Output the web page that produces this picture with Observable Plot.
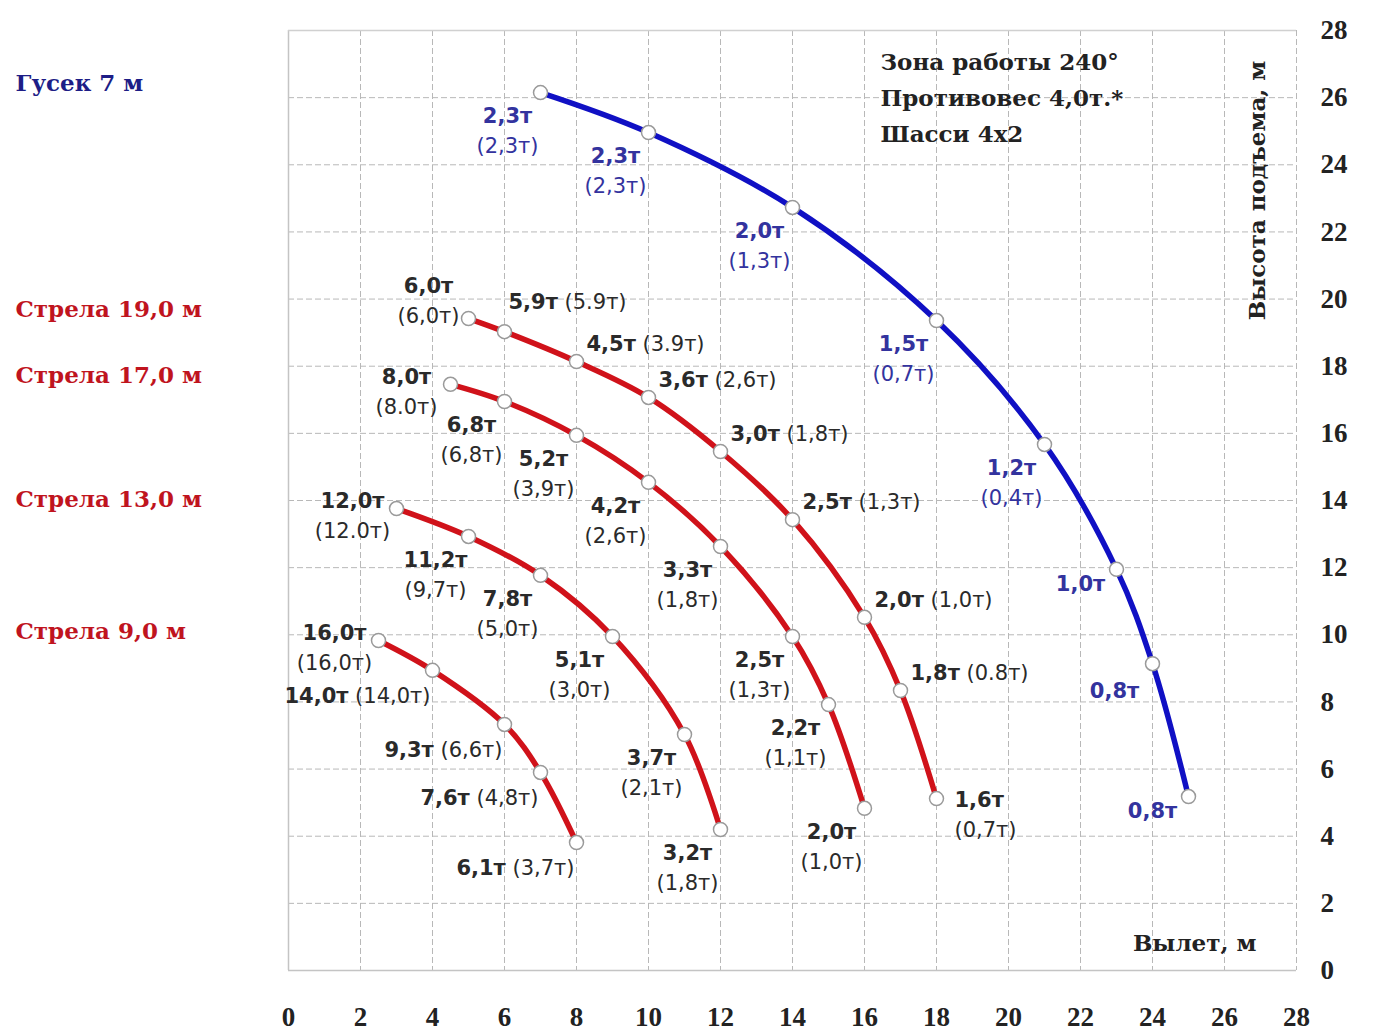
<!DOCTYPE html>
<html>
<head>
<meta charset="utf-8">
<script src="https://cdn.jsdelivr.net/npm/d3@7"></script>
<script src="https://cdn.jsdelivr.net/npm/@observablehq/plot@0.6"></script>
<style>
  html, body { margin: 0; padding: 0; background: #fff; }
</style>
</head>
<body>
<div id="chart"></div>
<script>
// ---------- data ----------
const xTicks = [0, 2, 4, 6, 8, 10, 12, 14, 16, 18, 20, 22, 24, 26, 28];
const yTicks = [0, 2, 4, 6, 8, 10, 12, 14, 16, 18, 20, 22, 24, 26, 28];

const seriesNames = ["Гусек 7 м", "Стрела 19,0 м", "Стрела 17,0 м", "Стрела 13,0 м", "Стрела 9,0 м"];

const jibX = [7, 10, 14, 18, 21, 23, 24, 25];
const jibY = [26.15, 24.96, 22.73, 19.36, 15.67, 11.95, 9.14, 5.18];
const jibLoad = ["2,3т", "2,3т", "2,0т", "1,5т", "1,2т", "1,0т", "0,8т", "0,8т"];
const jibLoadAlt = ["(2,3т)", "(2,3т)", "(1,3т)", "(0,7т)", "(0,4т)", "", "", ""];
const jibPlace = ["bl", "bl", "bl", "bl", "bl", "l1", "bl1", "l1"];

const boom19X = [5, 6, 8, 10, 12, 14, 16, 17, 18];
const boom19Y = [19.42, 19.03, 18.14, 17.07, 15.46, 13.43, 10.52, 8.34, 5.12];
const boom19Load = ["6,0т", "5,9т", "4,5т", "3,6т", "3,0т", "2,5т", "2,0т", "1,8т", "1,6т"];
const boom19LoadAlt = ["(6,0т)", "(5.9т)", "(3.9т)", "(2,6т)", "(1,8т)", "(1,3т)", "(1,0т)", "(0.8т)", "(0,7т)"];
const boom19Place = ["al2", "ar0", "ar", "ar", "ar", "ar", "ar", "ar", "r2"];

const boom17X = [4.5, 6, 8, 10, 12, 14, 15, 16];
const boom17Y = [17.46, 16.95, 15.94, 14.54, 12.63, 9.95, 7.92, 4.83];
const boom17Load = ["8,0т", "6,8т", "5,2т", "4,2т", "3,3т", "2,5т", "2,2т", "2,0т"];
const boom17LoadAlt = ["(8.0т)", "(6,8т)", "(3,9т)", "(2,6т)", "(1,8т)", "(1,3т)", "(1,1т)", "(1,0т)"];
const boom17Place = ["l2", "bl", "bl", "bl", "bl", "bl", "bl", "bl"];

const boom13X = [3, 5, 7, 9, 11, 12];
const boom13Y = [13.76, 12.93, 11.77, 9.95, 7.03, 4.2];
const boom13Load = ["12,0т", "11,2т", "7,8т", "5,1т", "3,7т", "3,2т"];
const boom13LoadAlt = ["(12.0т)", "(9,7т)", "(5,0т)", "(3,0т)", "(2,1т)", "(1,8т)"];
const boom13Place = ["l2", "bl", "bl", "bl", "bl", "bl"];

const boom9X = [2.5, 4, 6, 7, 8];
const boom9Y = [9.83, 8.94, 7.33, 5.9, 3.81];
const boom9Load = ["16,0т", "14,0т", "9,3т", "7,6т", "6,1т"];
const boom9LoadAlt = ["(16,0т)", "(14,0т)", "(6,6т)", "(4,8т)", "(3,7т)"];
const boom9Place = ["l2", "bl1e", "bl1e", "bl1e", "bl1e"];

const annotationLines = ["Зона работы 240°", "Противовес 4,0т.*", "Шасси 4x2"];
const xAxisTitle = "Вылет, м";
const yAxisTitle = "Высота подъема, м";

// ---------- styles ----------
const lineColors = ["#1010c4", "#d0121a", "#d0121a", "#d0121a", "#d0121a"];
const legendColors = ["#1d1d86", "#c0141e", "#c0141e", "#c0141e", "#c0141e"];
const labelColors = ["#33339e", "#2a2a2a", "#2a2a2a", "#2a2a2a", "#2a2a2a"];
const serifBold = {fontFamily: "DejaVu Serif", fontWeight: "bold", fontSize: 23, fill: "#222"};

const placements = {
  bl:   {dx: -33, dy: 36,  textAnchor: "middle", two: true},
  bl1:  {dx: -38, dy: 25,  textAnchor: "middle", two: false},
  l1:   {dx: -36, dy: 12,  textAnchor: "middle", two: false},
  al2:  {dx: -40, dy: -20, textAnchor: "middle", two: true},
  l2:   {dx: -44, dy: 5,   textAnchor: "middle", two: true},
  ar:   {dx: 10,  dy: -20, textAnchor: "start",  two: false},
  ar0:  {dx: 4,   dy: -32, textAnchor: "start",  two: false},
  r2:   {dx: 18,  dy: 14,  textAnchor: "start",  two: true},
  bl1e: {dx: -2,  dy: 23,  textAnchor: "end",    two: false}
};

// ---------- table ----------
const raw = [
  [jibX, jibY, jibLoad, jibLoadAlt, jibPlace],
  [boom19X, boom19Y, boom19Load, boom19LoadAlt, boom19Place],
  [boom17X, boom17Y, boom17Load, boom17LoadAlt, boom17Place],
  [boom13X, boom13Y, boom13Load, boom13LoadAlt, boom13Place],
  [boom9X, boom9Y, boom9Load, boom9LoadAlt, boom9Place]
];

const marks = [
  Plot.gridX(xTicks, {stroke: "#b8b8b8", strokeOpacity: 1, strokeDasharray: "6,3"}),
  Plot.gridY(yTicks, {stroke: "#b8b8b8", strokeOpacity: 1, strokeDasharray: "6,3"}),
  Plot.ruleY([0], {stroke: "#c4c4c4", strokeWidth: 1.5}),
  Plot.ruleX([0], {stroke: "#c4c4c4", strokeWidth: 1.5}),
  Plot.ruleY([28], {stroke: "#d0d0d0", strokeWidth: 1.5}),
  Plot.axisX(xTicks, {anchor: "bottom", tickSize: 0, tickPadding: 36, label: null,
    fontFamily: "Liberation Serif", fontWeight: "bold", fontSize: 27, fill: "#222"}),
  Plot.axisY(yTicks, {anchor: "right", tickSize: 0, tickPadding: 24, label: null,
    fontFamily: "Liberation Serif", fontWeight: "bold", fontSize: 27, fill: "#222"})
];

raw.forEach(([xs, ys, loads, alts, places], i) => {
  const rows = xs.map((x, j) => ({
    series: seriesNames[i], x, y: ys[j], load: loads[j], alt: alts[j], place: places[j]
  }));
  marks.push(Plot.line(rows, {x: "x", y: "y", stroke: lineColors[i], strokeWidth: 5.5,
    curve: "catmull-rom", strokeLinecap: "round"}));
  marks.push(Plot.dot(rows, {x: "x", y: "y", r: 7, fill: "white", stroke: "#9a9a9a", strokeWidth: 1.5}));
  for (const [code, p] of Object.entries(placements)) {
    const sub = rows.filter(r => r.place === code);
    if (!sub.length) continue;
    marks.push(Plot.text(sub, {
      x: "x", y: "y",
      text: r => p.two && r.alt ? r.load + "\n" + r.alt : (r.alt ? r.load + " " + r.alt : r.load),
      dx: p.dx, dy: p.dy, textAnchor: p.textAnchor, lineAnchor: "middle", lineHeight: 1.43,
      fill: labelColors[i], fontFamily: "DejaVu Sans", fontSize: 21,
      className: "load-label"
    }));
  }
  // legend entry on the left, at the height of the curve's first point
  marks.push(Plot.text([rows[0]], {
    y: "y", text: "series", frameAnchor: "left", dx: -273, dy: -9, textAnchor: "start",
    ...serifBold, fill: legendColors[i]
  }));
});

marks.push(Plot.text([annotationLines.join("\n")], {
  frameAnchor: "top-left", dx: 592, dy: 64, textAnchor: "start", lineAnchor: "middle",
  lineHeight: 1.55, ...serifBold
}));
marks.push(Plot.text([xAxisTitle], {
  frameAnchor: "bottom-right", dx: -40, dy: -20, textAnchor: "end", ...serifBold
}));
marks.push(Plot.text([yAxisTitle], {
  frameAnchor: "top-right", dx: -48, dy: 160, rotate: -90, textAnchor: "middle", ...serifBold
}));

const chart = Plot.plot({
  width: 1392,
  height: 1034,
  marginLeft: 288,
  marginRight: 96,
  marginTop: 30,
  marginBottom: 64,
  x: {domain: [0, 28]},
  y: {domain: [0, 28]},
  style: {background: "white", fontFamily: "DejaVu Sans", fontSize: "21px", overflow: "visible"},
  marks
});

// bold load value, regular value in parentheses
d3.select(chart).selectAll("g.load-label text").each(function () {
  const t = d3.select(this);
  const spans = t.selectAll("tspan");
  if (!spans.empty()) {
    d3.select(spans.nodes()[0]).attr("font-weight", "bold");
    return;
  }
  const s = t.text();
  const k = s.indexOf(" (");
  if (k < 0) { t.attr("font-weight", "bold"); return; }
  t.text(null);
  t.append("tspan").attr("font-weight", "bold").text(s.slice(0, k));
  t.append("tspan").text(s.slice(k));
});

document.getElementById("chart").appendChild(chart);
</script>
</body>
</html>
